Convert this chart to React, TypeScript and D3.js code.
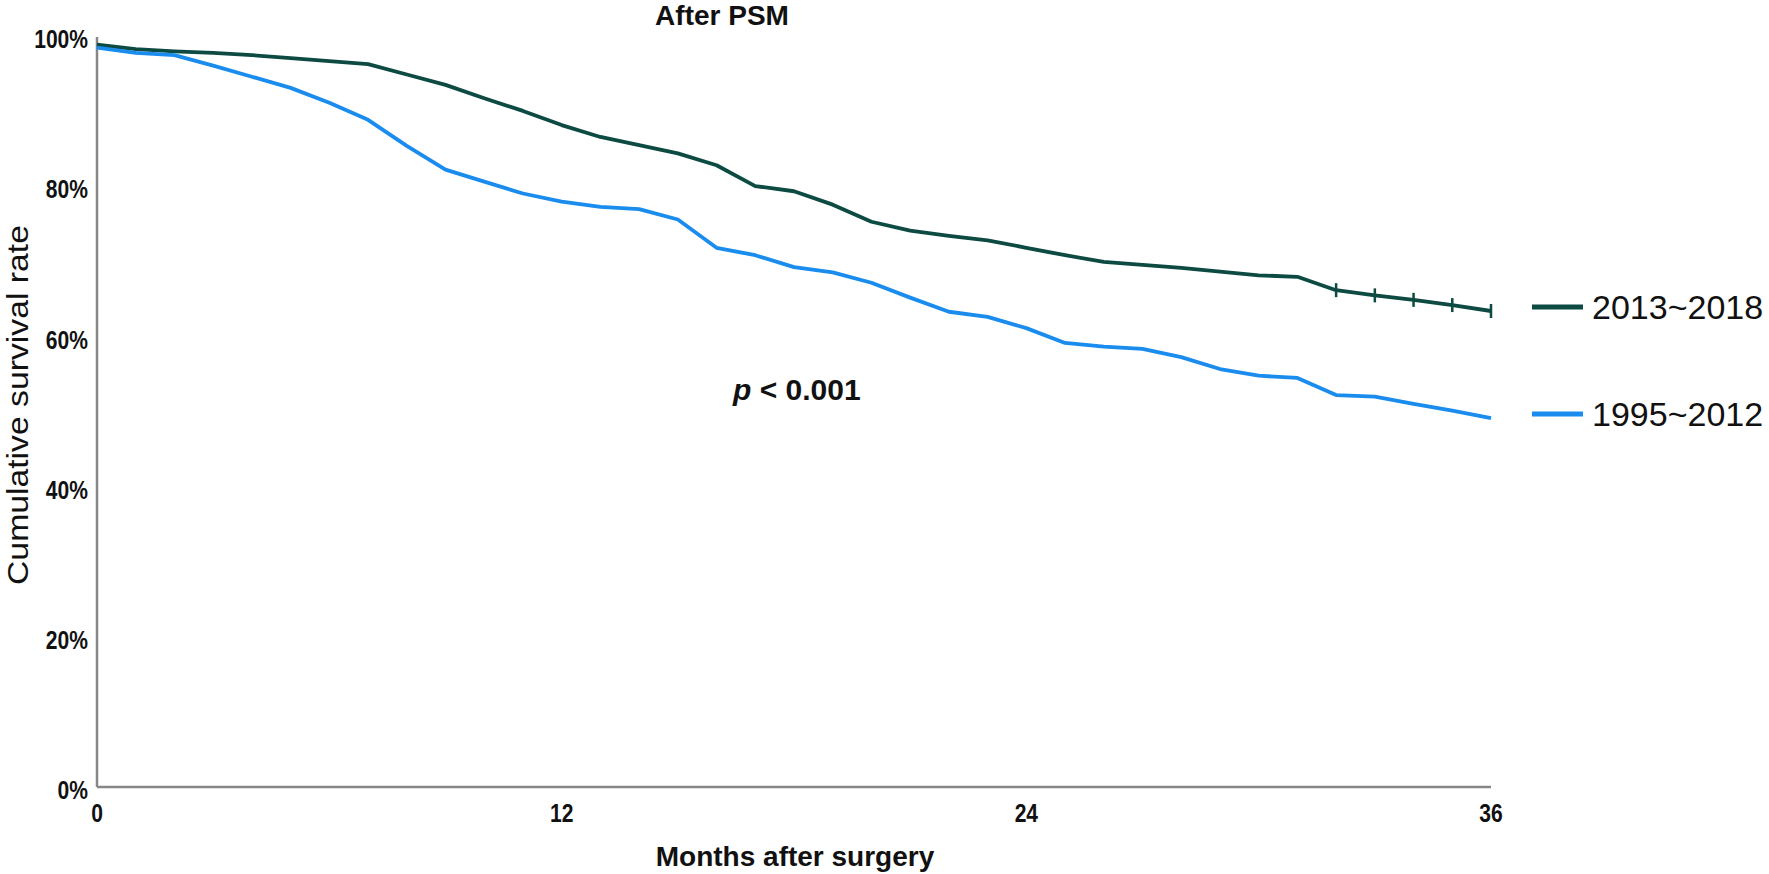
import React from "react";
import * as d3 from "d3";

const months = [0, 1, 2, 3, 4, 5, 6, 7, 8, 9, 10, 11, 12, 13, 14, 15, 16, 17, 18, 19, 20, 21, 22, 23, 24, 25, 26, 27, 28, 29, 30, 31, 32, 33, 34, 35, 36];

const survival2013_2018 = [99.8, 99.2, 98.9, 98.7, 98.4, 98.0, 97.6, 97.2, 95.8, 94.4, 92.6, 90.9, 89.0, 87.4, 86.3, 85.2, 83.6, 80.8, 80.1, 78.3, 76.0, 74.8, 74.1, 73.5, 72.5, 71.5, 70.6, 70.2, 69.8, 69.3, 68.8, 68.6, 66.8, 66.1, 65.5, 64.8, 64.0];

const survival1995_2012 = [99.4, 98.7, 98.4, 97.0, 95.5, 94.0, 92.0, 89.7, 86.2, 83.0, 81.4, 79.8, 78.7, 78.0, 77.7, 76.3, 72.5, 71.5, 69.9, 69.2, 67.8, 65.8, 63.9, 63.2, 61.7, 59.7, 59.2, 58.9, 57.8, 56.2, 55.3, 55.0, 52.7, 52.5, 51.5, 50.6, 49.6];

const censored2013_2018 = [32, 33, 34, 35, 36];

const xTicks = [0, 12, 24, 36];
const yTicks = [0, 20, 40, 60, 80, 100];

const seriesNames = ["2013~2018", "1995~2012"];
const seriesColors = ["#0c4a42", "#1a8cee"];

const W = 1769;
const H = 874;

export default function App() {
  const x = d3.scaleLinear().domain([0, 36]).range([97, 1491]);
  const y = d3.scaleLinear().domain([0, 100]).range([787, 43.25]);
  const yLabel = d3.scaleLinear().domain([0, 100]).range([790, 39]);

  const line = d3
    .line<number>()
    .x((_, i) => x(months[i]))
    .y((d) => y(d));

  const series = [survival2013_2018, survival1995_2012];
  const legendY = [survival2013_2018[36], survival1995_2012[36]];

  const sans = "'Liberation Sans', Arial, Helvetica, sans-serif";

  return (
    <div style={{ position: "absolute", left: 0, top: 0 }}>
      <svg width={W} height={H} style={{ display: "block", background: "#fff" }}>
        <rect x={0} y={0} width={W} height={H} fill="#fff" />
        {/* title */}
        <text x={722} y={25} textAnchor="middle" fontFamily={sans} fontWeight="bold" fontSize={28} fill="#111">
          After PSM
        </text>

        {/* axes */}
        <line x1={x(0)} x2={x(0)} y1={37} y2={y(0)} stroke="#878787" strokeWidth={2.5} />
        <line x1={x(0)} x2={x(36)} y1={y(0)} y2={y(0)} stroke="#878787" strokeWidth={2.5} />

        {/* y tick labels (condensed) */}
        {yTicks.map((t) => (
          <text
            key={"y" + t}
            transform={`translate(88, ${yLabel(t)}) scale(0.81, 1)`}
            dy="0.35em"
            textAnchor="end"
            fontFamily={sans}
            fontWeight="bold"
            fontSize={26}
            fill="#111"
          >
            {t + "%"}
          </text>
        ))}

        {/* x tick labels (condensed) */}
        {xTicks.map((t) => (
          <text
            key={"x" + t}
            transform={`translate(${x(t)}, 822) scale(0.81, 1)`}
            textAnchor="middle"
            fontFamily={sans}
            fontWeight="bold"
            fontSize={26}
            fill="#111"
          >
            {t}
          </text>
        ))}

        {/* axis titles */}
        <text x={795} y={866} textAnchor="middle" fontFamily={sans} fontWeight="bold" fontSize={28} fill="#111">
          Months after surgery
        </text>
        <text
          transform={`translate(28, 405) rotate(-90)`}
          textAnchor="middle"
          fontFamily={sans}
          fontSize={29}
          textLength={360}
          lengthAdjust="spacingAndGlyphs"
          fill="#111"
        >
          Cumulative survival rate
        </text>

        {/* curves */}
        {series.map((s, i) => (
          <path
            key={"s" + i}
            d={line(s) || ""}
            fill="none"
            stroke={seriesColors[i]}
            strokeWidth={3.8}
            strokeLinejoin="round"
          />
        ))}

        {/* censor marks */}
        {censored2013_2018.map((m) => (
          <line
            key={"c" + m}
            x1={x(m)}
            x2={x(m)}
            y1={y(survival2013_2018[months.indexOf(m)]) - 7}
            y2={y(survival2013_2018[months.indexOf(m)]) + 7}
            stroke={seriesColors[0]}
            strokeWidth={2.5}
          />
        ))}

        {/* p value */}
        <text x={733} y={400} fontFamily={sans} fontWeight="bold" fontSize={30} fill="#111">
          <tspan fontStyle="italic">p</tspan>
          <tspan> &lt; 0.001</tspan>
        </text>

        {/* legend */}
        {seriesNames.map((n, i) => (
          <g key={"l" + i}>
            <line
              x1={1532}
              x2={1583}
              y1={y(legendY[i]) - 4}
              y2={y(legendY[i]) - 4}
              stroke={seriesColors[i]}
              strokeWidth={5}
            />
            <text
              x={1592}
              y={y(legendY[i]) - 4}
              dy="0.36em"
              fontFamily={sans}
              fontSize={34}
              fill="#111"
            >
              {n}
            </text>
          </g>
        ))}
      </svg>
    </div>
  );
}
